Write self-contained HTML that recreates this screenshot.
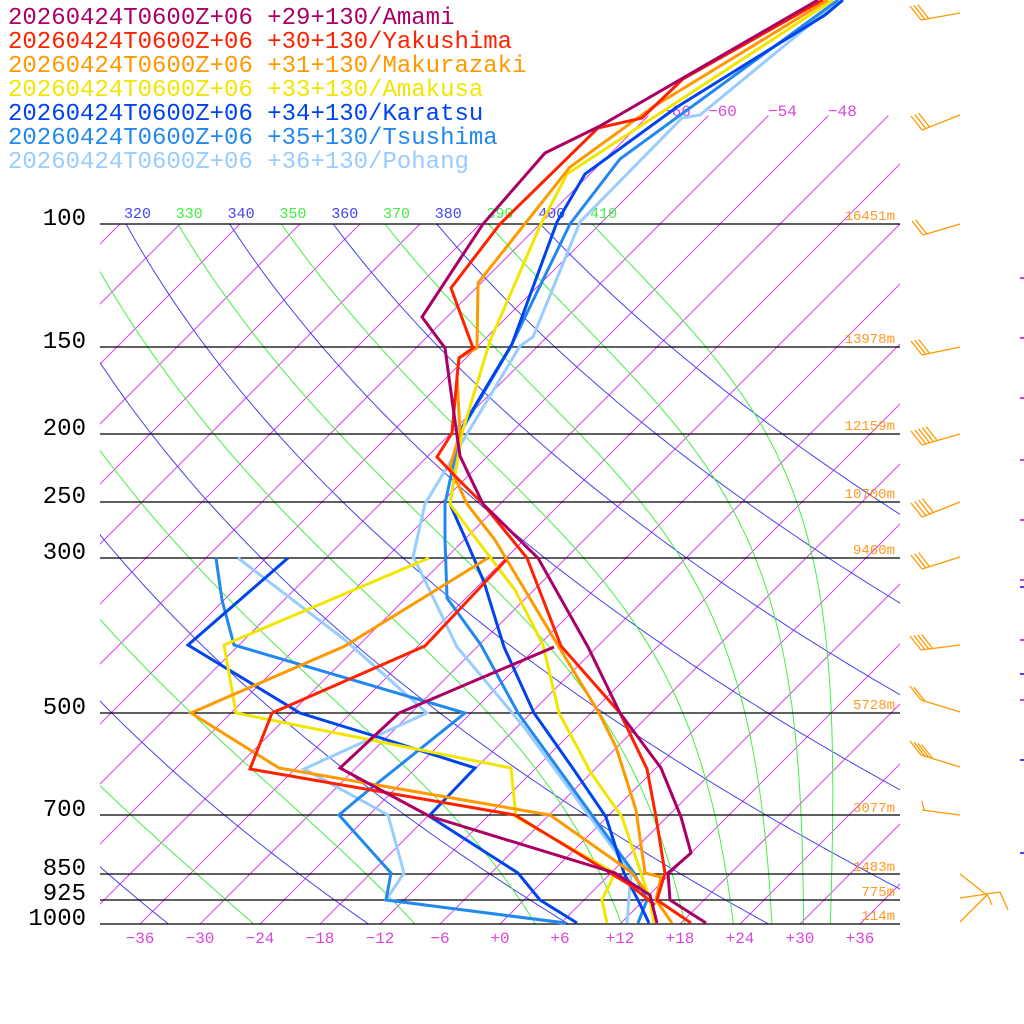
<!DOCTYPE html>
<html><head><meta charset="utf-8">
<style>
html,body{margin:0;padding:0;background:#fff;}
svg{display:block;}
text{font-family:"Liberation Mono",monospace;}
</style></head>
<body>
<svg id="s" width="1024" height="1024" viewBox="0 0 1024 1024" xmlns="http://www.w3.org/2000/svg">
<defs>
<clipPath id="plot"><rect x="100" y="224" width="800" height="700"/></clipPath>
<clipPath id="iso"><rect x="100" y="100" width="800" height="824"/></clipPath>
</defs>
<g id="bg"></g>
<g id="lab"></g>
<g stroke="#000" stroke-width="1.2">
<line x1="100" y1="224" x2="900" y2="224"/>
<line x1="100" y1="347" x2="900" y2="347"/>
<line x1="100" y1="434" x2="900" y2="434"/>
<line x1="100" y1="502" x2="900" y2="502"/>
<line x1="100" y1="558" x2="900" y2="558"/>
<line x1="100" y1="713" x2="900" y2="713"/>
<line x1="100" y1="815" x2="900" y2="815"/>
<line x1="100" y1="874" x2="900" y2="874"/>
<line x1="100" y1="900" x2="900" y2="900"/>
<line x1="100" y1="924" x2="900" y2="924"/>
</g>
<g font-size="24" fill="#000" text-anchor="end">
<text x="86" y="225">100</text>
<text x="86" y="348">150</text>
<text x="86" y="435">200</text>
<text x="86" y="503">250</text>
<text x="86" y="559">300</text>
<text x="86" y="714">500</text>
<text x="86" y="816">700</text>
<text x="86" y="875">850</text>
<text x="86" y="900">925</text>
<text x="86" y="925">1000</text>
</g>
<g font-size="14" fill="#ff9922" text-anchor="end">
<text x="895" y="220">16451m</text>
<text x="895" y="343">13978m</text>
<text x="895" y="430">12159m</text>
<text x="895" y="498">10700m</text>
<text x="895" y="554">9460m</text>
<text x="895" y="709">5728m</text>
<text x="895" y="812">3077m</text>
<text x="895" y="871">1483m</text>
<text x="895" y="896">775m</text>
<text x="895" y="920">114m</text>
</g>
<g font-size="16" fill="#dd44dd" text-anchor="middle">
<text x="140" y="943">−36</text><text x="200" y="943">−30</text><text x="260" y="943">−24</text>
<text x="320" y="943">−18</text><text x="380" y="943">−12</text><text x="440" y="943">−6</text>
<text x="500" y="943">+0</text><text x="560" y="943">+6</text><text x="620" y="943">+12</text>
<text x="680" y="943">+18</text><text x="740" y="943">+24</text><text x="800" y="943">+30</text>
<text x="860" y="943">+36</text>
</g>
<g font-size="16" fill="#dd44dd">
<text x="662" y="116">−66</text><text x="708" y="116">−60</text><text x="768" y="116">−54</text><text x="828" y="116">−48</text>
</g>
<g fill="none" stroke-width="3" stroke-linejoin="miter">
<polyline stroke="#99ccff" points="840,0 700,115 682,118 580,222 533,337 520,346 425,504 413,557 415,560 457,647 524,727 631,873 627,923"/>
<polyline stroke="#99ccff" points="238,558 345,640 427,713 304,769 388,815 404,873 386,900 563,923"/>
<polyline stroke="#2288ee" points="838,0 620,159 570,224 510,348 460,433 445,504 445,540 447,598 481,645 518,713 634,873 647,900 638,923"/>
<polyline stroke="#2288ee" points="216,558 222,600 234,645 465,713 359,798 339,815 391,873 386,900 566,923"/>
<polyline stroke="#0044ee" points="843,0 825,15 677,107 585,174 557,222 512,344 463,426 450,504 466,540 484,582 504,647 534,713 574,770 606,817 624,873 638,900 649,923"/>
<polyline stroke="#0044ee" points="288,558 188,645 300,713 381,738 475,768 429,816 518,873 540,900 577,923"/>
<polyline stroke="#f2e600" points="833,0 567,174 540,226 490,341 462,433 450,504 477,540 515,590 543,645 559,713 591,773 622,817 641,873 650,900 654,923"/>
<polyline stroke="#f2e600" points="429,558 224,645 236,713 511,768 516,817 615,873 602,900 607,923"/>
<polyline stroke="#ff9900" points="828,0 653,107 570,167 478,283 477,348 459,358 457,376 460,433 450,467 467,504 495,540 559,647 599,713 616,747 636,810 645,873 661,877 656,900 672,923"/>
<polyline stroke="#ff9900" points="488,558 345,646 191,713 279,768 550,815 631,872 645,890"/>
<polyline stroke="#ff2200" points="823,0 683,79 642,118 598,128 500,224 451,288 473,348 459,358 457,378 452,433 437,457 457,478 483,504 527,558 561,646 620,713 647,769 656,817 665,873 657,900 691,923"/>
<polyline stroke="#ff2200" points="506,560 425,646 272,713 250,769 515,815 630,885 655,905"/>
<polyline stroke="#aa0066" points="818,0 600,126 545,153 483,224 422,317 445,348 453,407 460,456 483,504 538,558 588,647 620,713 661,768 681,817 691,853 668,873 670,900 706,923"/>
<polyline stroke="#aa0066" points="554,647 399,713 340,768 429,816 615,873 650,895 657,923"/>
</g>
<g font-size="24">
<text x="8" y="24" fill="#aa0066">20260424T0600Z+06 +29+130/Amami</text>
<text x="8" y="48" fill="#ff2200">20260424T0600Z+06 +30+130/Yakushima</text>
<text x="8" y="72" fill="#ff9900">20260424T0600Z+06 +31+130/Makurazaki</text>
<text x="8" y="96" fill="#f2e600">20260424T0600Z+06 +33+130/Amakusa</text>
<text x="8" y="120" fill="#0044ee">20260424T0600Z+06 +34+130/Karatsu</text>
<text x="8" y="144" fill="#2288ee">20260424T0600Z+06 +35+130/Tsushima</text>
<text x="8" y="168" fill="#99ccff">20260424T0600Z+06 +36+130/Pohang</text>
</g>
<g id="wind" stroke="#ff9900" stroke-width="1.3" fill="none"></g>
<g stroke-width="2">
<line x1="1020" y1="278" x2="1024" y2="278" stroke="#cc44cc"/>
<line x1="1020" y1="338" x2="1024" y2="338" stroke="#cc44cc"/>
<line x1="1020" y1="398" x2="1024" y2="398" stroke="#cc44cc"/>
<line x1="1020" y1="460" x2="1024" y2="460" stroke="#cc44cc"/>
<line x1="1020" y1="520" x2="1024" y2="520" stroke="#cc44cc"/>
<line x1="1020" y1="580" x2="1024" y2="580" stroke="#cc44cc"/>
<line x1="1020" y1="587" x2="1024" y2="587" stroke="#4444ee"/>
<line x1="1020" y1="640" x2="1024" y2="640" stroke="#cc44cc"/>
<line x1="1020" y1="674" x2="1024" y2="674" stroke="#4444ee"/>
<line x1="1020" y1="700" x2="1024" y2="700" stroke="#cc44cc"/>
<line x1="1020" y1="760" x2="1024" y2="760" stroke="#4444ee"/>
<line x1="1020" y1="853" x2="1024" y2="853" stroke="#4444ee"/>
</g>
</svg>
<script>
(function(){
var NS="http://www.w3.org/2000/svg";
var bg=document.getElementById("bg"), lab=document.getElementById("lab");
function Y(p){return 924-304*Math.log(1000/p);}
function X(T,p){return 500+10*T+(924-Y(p));}
function path(pts,col,clip,w){var d="";for(var i=0;i<pts.length;i++)d+=(i?"L":"M")+pts[i][0].toFixed(1)+","+pts[i][1].toFixed(1);
var e=document.createElementNS(NS,"path");e.setAttribute("d",d);e.setAttribute("stroke",col);e.setAttribute("fill","none");e.setAttribute("stroke-width",w||1);e.setAttribute("clip-path","url(#"+clip+")");bg.appendChild(e);}
for(var T=-150;T<=40;T+=6){var top=(T>=-66)?70:100;path([[X(T,1000),Y(1000)],[X(T,top),Y(top)]],"#dd44ee","iso",1);}
function es(Tc){return 6.112*Math.exp(17.67*Tc/(Tc+243.5));}
function dTdp(T,p){var Tc=T-273.15,e=es(Tc),rs=0.622*e/Math.max(p-e,1),Lv=2.501e6,Rd=287.04,cp=1005.7;
return (1/p)*(Rd*T+Lv*rs)/(cp+Lv*Lv*rs*0.622/(Rd*T*T));}
for(var th=230;th<=410;th+=10){
 var odd=((th/10)%2==1);
 var col=odd?"#44ee44":"#4444ee";
 var pts=[];
 if(!odd){for(var p=1000;p>=99;p-=5){pts.push([X(th*Math.pow(p/1000,0.2857)-273.15,p),Y(p)]);}}
 else{var T=th*Math.pow(0.1,0.2857),p=100,h=1;pts.push([X(T-273.15,p),Y(p)]);
   while(p<1000){var k1=dTdp(T,p),k2=dTdp(T+h*k1/2,p+h/2);T+=h*k2;p+=h;pts.push([X(T-273.15,p),Y(p)]);if(T>360)break;}}
 path(pts,col,"plot",1);
 if(th>=320&&th<=410){var x=X(th*Math.pow(0.1,0.2857)-273.15,100);var t=document.createElementNS(NS,"text");t.setAttribute("x",(x-2).toFixed(1));t.setAttribute("y","218");t.setAttribute("font-size","15");t.setAttribute("fill",col);t.textContent=String(th);lab.appendChild(t);}
}
var W=document.getElementById("wind");
function ln(a,b,c,d){var e=document.createElementNS(NS,"line");e.setAttribute("x1",a);e.setAttribute("y1",b);e.setAttribute("x2",c);e.setAttribute("y2",d);W.appendChild(e);}
var barbs=[[921,20,13,3],[922,130,115,3],[923,235,224,2],[922,355,347,3],[922,445,434,5],[922,517,502,4],[922,569,557,3],[921,650,645,4],[921,700,712,2],[921,755,767,4]];
barbs.forEach(function(b){var xl=b[0],yl=b[1],yr=b[2],n=b[3];ln(xl,yl,960,yr);
for(var i=0;i<n;i++){var f=i*0.1;var px=xl+(960-xl)*f,py=yl+(yr-yl)*f;ln(px,py,px-11,py-14);}});
ln(922,810,960,815);ln(924,810,922,801);
ln(960,874,988,896);ln(960,898,1000,892);ln(960,922,987,895);ln(1000,892,1008,910);ln(988,896,992,905);
})();
</script>
</body></html>
